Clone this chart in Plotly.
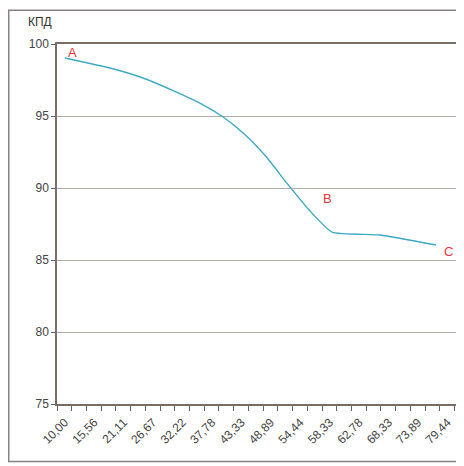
import plotly.graph_objects as go

# x tick labels (category positions 0..13)
x_labels = ["10,00", "15,56", "21,11", "26,67", "32,22", "37,78", "43,33",
            "48,89", "54,44", "58,33", "62,78", "68,33", "73,89", "79,44"]
# curve points: x in label-position units, y = КПД
x_pos = [-0.23, 1.30, 2.42, 3.46, 4.40, 5.13, 5.86, 6.59, 7.32, 8.05, 8.84, 10.47, 12.37]
kpd = [99.03, 98.33, 97.64, 96.75, 95.85, 94.95, 93.75, 92.20, 90.30, 88.50, 86.94, 86.74, 86.04]

point_names = ["A", "B", "C"]
point_x = [0.04, 8.67, 12.78]
point_y = [99.44, 89.24, 85.56]

y_ticks = [75, 80, 85, 90, 95, 100]

fig = go.Figure()
fig.add_trace(go.Scatter(x=x_pos, y=kpd, mode="lines",
                         line=dict(color="#3fa9c2", width=1.4, shape="spline", smoothing=0.5),
                         hoverinfo="skip", showlegend=False))

for n, px, py in zip(point_names, point_x, point_y):
    fig.add_annotation(x=px, y=py, text=n, showarrow=False,
                       font=dict(color="#e8343c", size=13, family="Liberation Sans"))

fig.add_annotation(x=-0.043, y=1.036, xref="paper", yref="paper", text="КПД",
                   showarrow=False, xanchor="center", yanchor="bottom",
                   font=dict(size=12, color="#333333", family="Liberation Sans"))

# outer frame
fig.add_shape(type="rect", xref="paper", yref="paper",
              x0=-0.121, x1=1.013, y0=-0.16, y1=1.094,
              line=dict(color="#888080", width=1.5), layer="below")

fig.update_layout(
    width=456, height=458,
    margin=dict(l=49, r=8, t=36, b=62, autoexpand=False),
    paper_bgcolor="white", plot_bgcolor="white",
    font=dict(family="Liberation Sans", size=12, color="#444444"),
    xaxis=dict(range=[-0.5, 13.05], tickmode="array", tickvals=list(range(len(x_labels))),
               ticktext=x_labels, tickangle=-45, ticks="outside", ticklen=5,
               ticklabelshift=-7,
               tickcolor="#666060", showgrid=False, zeroline=False, automargin=False,
               showline=True, linecolor="#7a6c68", linewidth=1.5, mirror=True,
               tickfont=dict(size=12, color="#444444"),
               minor=dict(dtick=0.5, tick0=-0.5, ticks="outside", ticklen=5, tickcolor="#666060")),
    yaxis=dict(range=[75, 100], tickvals=y_ticks, ticks="outside", ticklen=4,
               tickcolor="#666060", showgrid=True, gridcolor="#b8aaa6", gridwidth=1,
               zeroline=False, showline=True, linecolor="#7a6c68", linewidth=1.5,
               automargin=False, mirror=True, tickfont=dict(size=12, color="#444444")),
)

fig.write_html("out.html")
